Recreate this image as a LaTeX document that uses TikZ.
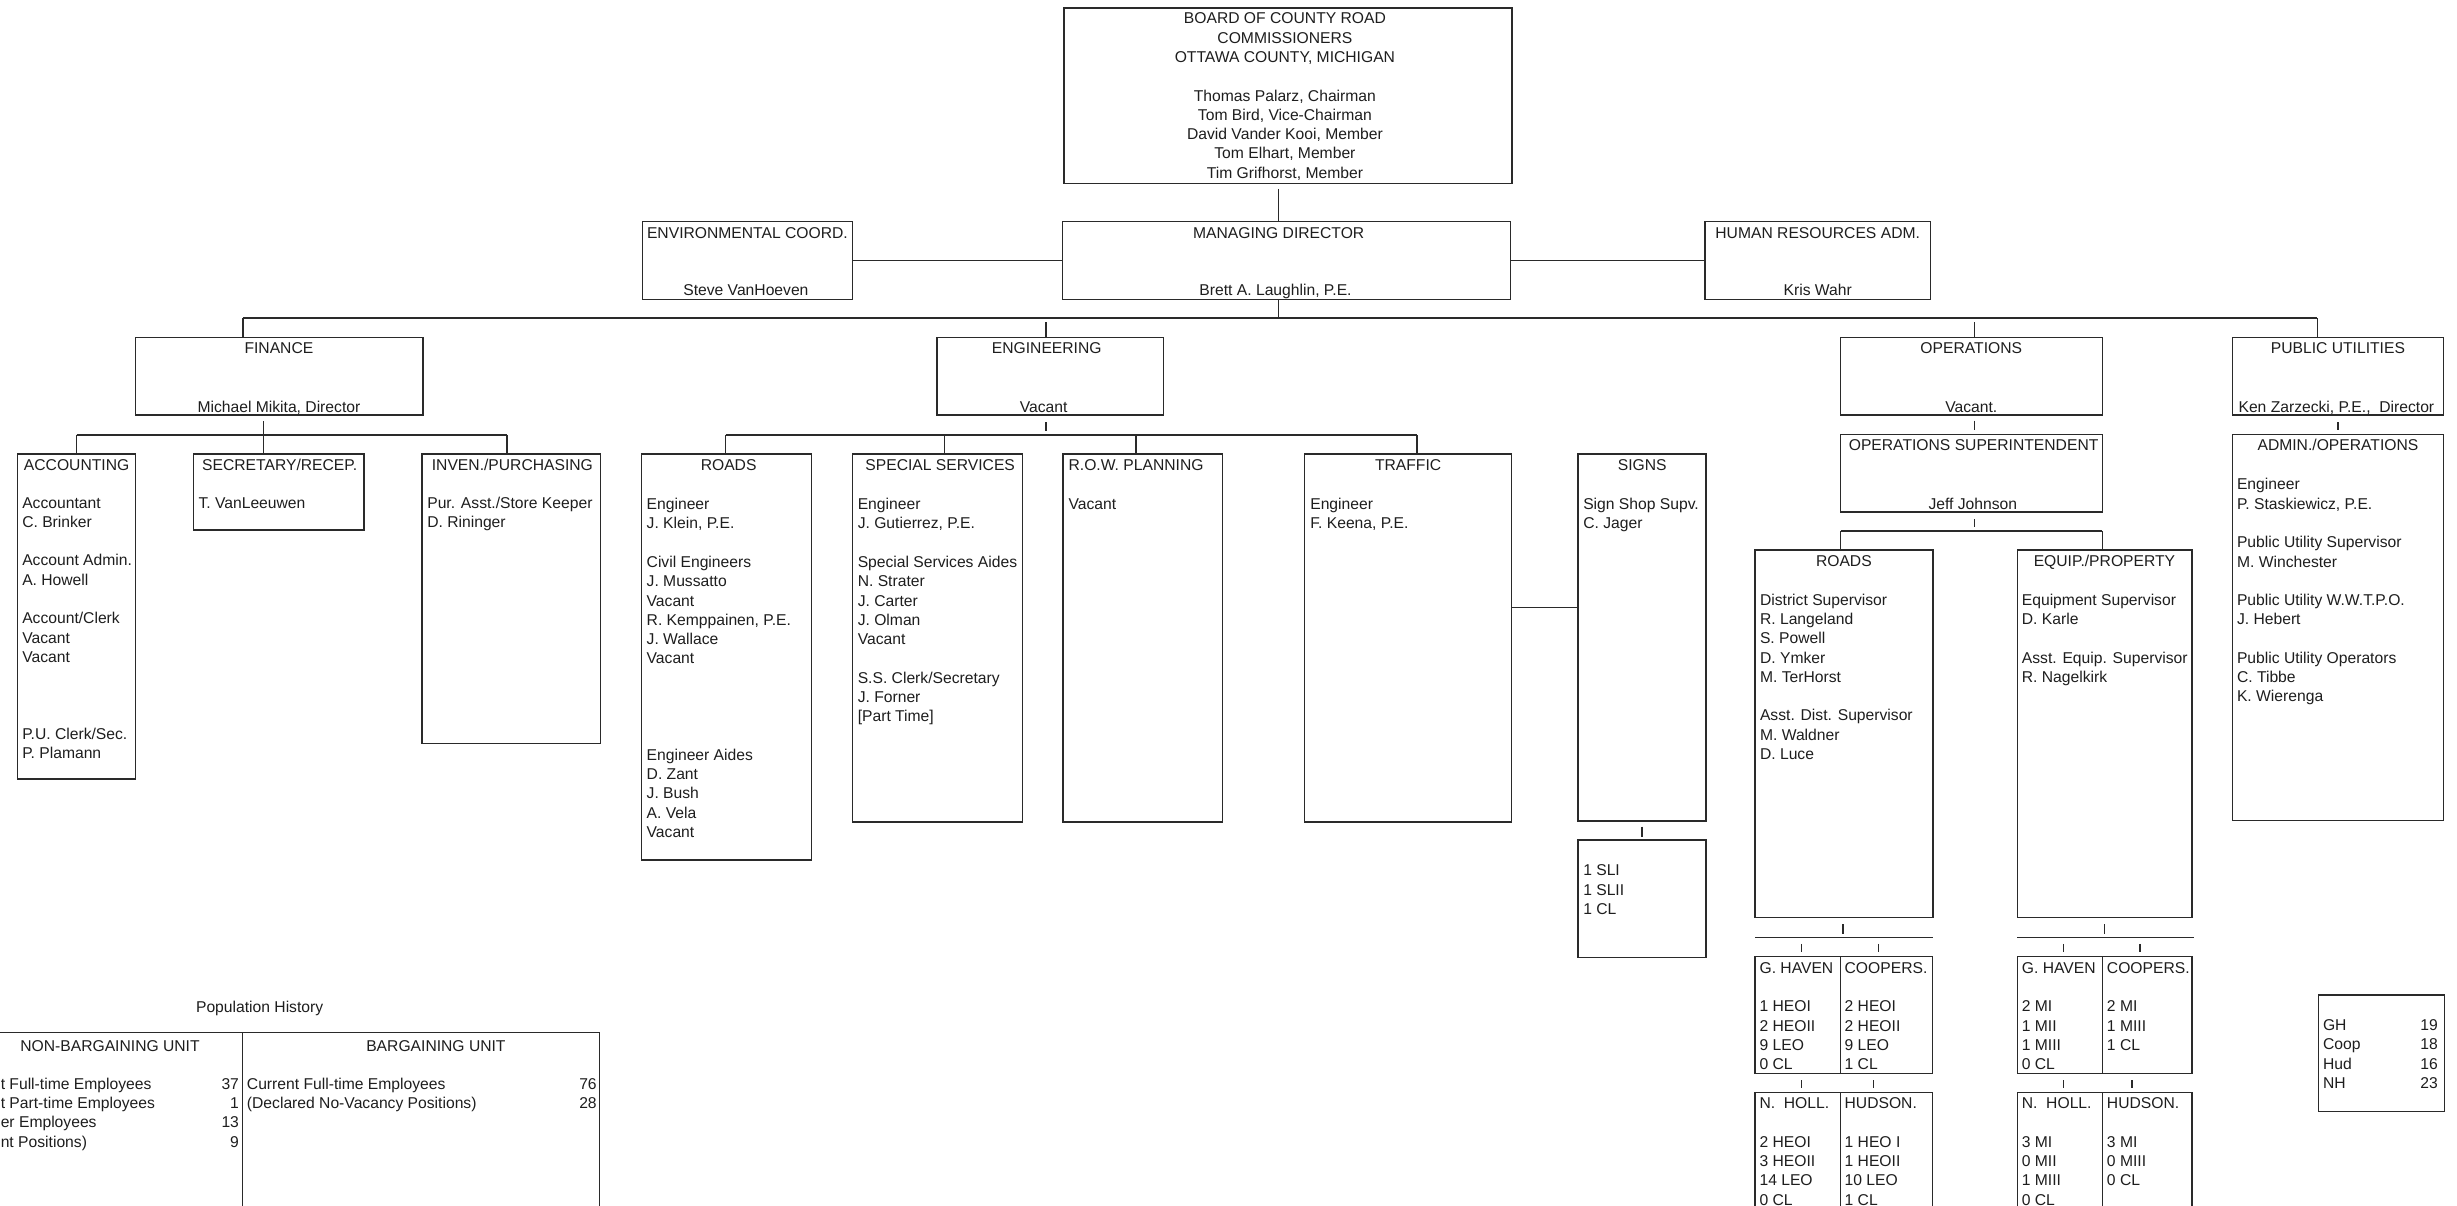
\documentclass[tikz,border=0pt]{standalone}
\usepackage{fontspec}
\setmainfont{Liberation Sans}
\usetikzlibrary{fit}
\definecolor{linec}{HTML}{2A2A2A}
\definecolor{textc}{HTML}{1E1E1E}
\newcommand{\bodyfont}{\fontsize{10}{12.3}\selectfont}
\newcommand{\obox}[5]{\coordinate (#1-a) at (#2,#3); \coordinate (#1-b) at (#4,#5); \node[boxst, fit=(#1-a)(#1-b)] (#1) {};}
\begin{document}
\begin{tikzpicture}[x=1pt,y=-1pt,
  boxst/.style={draw=linec, line width=0.95pt, inner sep=0pt},
  conn/.style={draw=linec, line width=0.95pt},
  tick/.style={conn, shorten <=4pt, shorten >=2.5pt},
  lbl/.style={inner sep=0pt, text=textc, font=\bodyfont, anchor=base},
  lblw/.style={lbl, anchor=base west},
  lble/.style={lbl, anchor=base east},
  blk/.style={inner sep=0pt, text=textc, font=\bodyfont, align=left, anchor=north west},
]
\useasboundingbox[fill=white] (0,0) rectangle (1568,769.6);

% ---------- boxes ----------
\obox{board}{679}{5}{965}{117}
\obox{env}{410}{141.5}{544}{191}
\obox{md}{678}{141.5}{964}{191}
\obox{hr}{1088}{141.5}{1232}{191}
\obox{fin}{86.5}{215.5}{270}{265}
\obox{eng}{598}{215.5}{742.5}{265}
\obox{ops}{1174.7}{215.5}{1341.6}{265}
\obox{pu}{1424.6}{215.5}{1559.2}{265}
\obox{acc}{11.3}{289.7}{86.5}{497}
\obox{sec}{123.6}{289.7}{232.3}{338.2}
\obox{inv}{269.4}{289.7}{383.3}{474.4}
\obox{eroads}{409.4}{289.7}{517.9}{548.8}
\obox{ss}{544}{289.7}{652.4}{524.7}
\obox{row}{678.5}{289.7}{780.2}{524.7}
\obox{traf}{832.6}{289.7}{964.6}{524.7}
\obox{signs}{1007}{289.7}{1088.8}{524}
\obox{signs2}{1007}{536}{1088.8}{611}
\obox{osup}{1174.7}{277.2}{1341.6}{326.9}
\obox{roadsO}{1120}{351}{1233.5}{585.4}
\obox{equip}{1287.4}{351}{1398.8}{585.4}
\obox{admin}{1424.6}{277.3}{1559.2}{523.7}
\obox{ghA}{1120}{610.5}{1174.6}{685}
\obox{ghB}{1174.6}{610.5}{1233.3}{685}
\obox{nhA}{1120}{697.3}{1174.6}{780}
\obox{nhB}{1174.6}{697.3}{1233.3}{780}
\obox{gqA}{1287.4}{610.5}{1341.6}{685}
\obox{gqB}{1341.6}{610.5}{1398.8}{685}
\obox{nqA}{1287.4}{697.3}{1341.6}{780}
\obox{nqB}{1341.6}{697.3}{1398.8}{780}
\obox{ghbox}{1479.5}{635}{1559.9}{709.4}
\obox{popL}{-5}{659}{154.6}{780}
\obox{popR}{154.6}{659}{382.7}{780}

% ---------- connectors ----------
\coordinate (barL) at (155,203);
\coordinate (barR) at (1478.8,203);
\coordinate (barM) at (816,203);
\coordinate (barE) at (667.6,203);
\coordinate (barO) at (1260,203);
\draw[conn] (barL) -- (barR);
\draw[conn, shorten <=3pt] (board.south -| barM) -- (md.north -| barM);
\draw[conn] (md.south -| barM) -- (barM);
\draw[conn] (env.east) -- (md.west);
\draw[conn] (md.east) -- (hr.west);
\draw[conn] (barL) -- (fin.north -| barL);
\draw[conn, shorten <=2.5pt] (barE) -- (eng.north -| barE);
\draw[conn, shorten <=2.5pt] (barO) -- (ops.north -| barO);
\draw[conn] (barR) -- (pu.north -| barR);

\coordinate (fsL) at (48.9,277.6);
\coordinate (fsM) at (168,277.6);
\coordinate (fsR) at (323.7,277.6);
\draw[conn, shorten <=3.5pt] (fin.south -| fsM) -- (sec.north -| fsM);
\draw[conn] (fsL) -- (fsR);
\draw[conn] (fsL) -- (acc.north -| fsL);
\draw[conn] (fsR) -- (inv.north -| fsR);

\coordinate (esL) at (463,277.7);
\coordinate (esR) at (904.3,277.7);
\coordinate (esM) at (667.6,277.7);
\coordinate (esS) at (602.6,277.7);
\coordinate (esW) at (725,277.7);
\draw[tick] (eng.south -| esM) -- (esM);
\draw[conn] (esL) -- (esR);
\draw[conn] (esL) -- (eroads.north -| esL);
\draw[conn] (esS) -- (ss.north -| esS);
\draw[conn] (esW) -- (row.north -| esW);
\draw[conn] (esR) -- (traf.north -| esR);

\coordinate (tsy) at (0,387.7);
\draw[conn] (traf.east |- tsy) -- (signs.west |- tsy);
\draw[tick, shorten <=3pt, shorten >=1.5pt] (signs.south) -- (signs2.north);

\draw[tick, shorten <=3pt] (ops.south -| barO) -- (osup.north -| barO);
\coordinate (osM) at (1260,339);
\coordinate (osL) at (1174.7,339);
\coordinate (osR) at (1341.6,339);
\draw[tick] (osup.south -| osM) -- (osM);
\draw[conn] (osL) -- (osR);
\draw[conn] (osL) -- (roadsO.north -| osL);
\draw[conn] (osR) -- (equip.north -| osR);

\coordinate (rbL) at (1120,598.4);
\coordinate (rbR) at (1233.3,598.4);
\coordinate (rbM) at (1176,598.4);
\coordinate (rb1) at (1149.8,598.4);
\coordinate (rb2) at (1198.7,598.4);
\coordinate (rc2) at (1195.5,598.4);
\draw[tick] (roadsO.south -| rbM) -- (rbM);
\draw[conn] (rbL) -- (rbR);
\draw[tick] (rb1) -- (ghA.north -| rb1);
\draw[tick] (rb2) -- (ghB.north -| rb2);
\draw[tick] (ghA.south -| rb1) -- (nhA.north -| rb1);
\draw[tick] (ghB.south -| rc2) -- (nhB.north -| rc2);

\coordinate (ebL) at (1287.4,598.4);
\coordinate (ebR) at (1400,598.4);
\coordinate (ebM) at (1343,598.4);
\coordinate (eb1) at (1316.7,598.4);
\coordinate (eb2) at (1365.7,598.4);
\coordinate (ec2) at (1360.6,598.4);
\draw[tick] (equip.south -| ebM) -- (ebM);
\draw[conn] (ebL) -- (ebR);
\draw[tick] (eb1) -- (gqA.north -| eb1);
\draw[tick] (eb2) -- (gqB.north -| eb2);
\draw[tick] (gqA.south -| eb1) -- (nqA.north -| eb1);
\draw[tick] (gqB.south -| ec2) -- (nqB.north -| ec2);

\draw[tick] (pu.south) -- (admin.north);

% ---------- texts ----------
\node[blk, align=center, anchor=north] (tboard) at (820,8.1) {BOARD OF COUNTY ROAD\\COMMISSIONERS\\OTTAWA COUNTY, MICHIGAN\\[12.3pt]Thomas Palarz, Chairman\\Tom Bird, Vice-Chairman\\David Vander Kooi, Member\\Tom Elhart, Member\\Tim Grifhorst, Member};

\node[lbl] (tenv1) at (477,152.4) {ENVIRONMENTAL COORD.};
\node[lbl] (tenv2) at (476,188.6) {Steve VanHoeven};
\node[lbl] (tmd1) at (816,152.4) {MANAGING DIRECTOR};
\node[lbl] (tmd2) at (814,188.6) {Brett A. Laughlin, P.E.};
\node[lbl] (thr1) at (1160,152.4) {HUMAN RESOURCES ADM.};
\node[lbl] (thr2) at (1160,188.6) {Kris Wahr};

\node[lbl] (tfin1) at (178,225.9) {FINANCE};
\node[lbl] (tfin2) at (178,263.1) {Michael Mikita, Director};
\node[lbl] (teng1) at (668,225.9) {ENGINEERING};
\node[lbl] (teng2) at (666,263.1) {Vacant};
\node[lbl] (tops1) at (1258,225.9) {OPERATIONS};
\node[lbl] (tops2) at (1258,263.1) {Vacant.};
\node[lbl] (tpu1) at (1492,225.9) {PUBLIC UTILITIES};
\node[lbl] (tpu2) at (1491,263.1) {Ken Zarzecki, P.E.,~~Director};

\node[lbl] (tacc) at (48.9,300) {ACCOUNTING};
\node[lbl] (tsec) at (178.5,300) {SECRETARY/RECEP.};
\node[lbl] (tinv) at (327,300) {INVEN./PURCHASING};
\node[lbl] (teroads) at (465,300) {ROADS};
\node[lbl] (tss) at (600,300) {SPECIAL SERVICES};
\node[lbl] (trow) at (725,300) {R.O.W. PLANNING};
\node[lbl] (ttraf) at (898.6,300) {TRAFFIC};
\node[lbl] (tsigns) at (1048,300) {SIGNS};

\node[blk] (bacc) at (14,317.2) {Accountant\\C. Brinker\\[12.3pt]Account Admin.\\A. Howell\\[12.3pt]Account/Clerk\\Vacant\\Vacant\\[36.9pt]P.U. Clerk/Sec.\\P. Plamann};
\node[blk] (bsec) at (126.5,317.2) {T. VanLeeuwen};
\node[blk] (binv) at (272.5,317.2) {Pur. Asst./Store Keeper\\D. Rininger};
\node[blk] (beroads) at (412.5,317.8) {Engineer\\J. Klein, P.E.\\[12.3pt]Civil Engineers\\J. Mussatto\\Vacant\\R. Kemppainen, P.E.\\J. Wallace\\Vacant\\[49.2pt]Engineer Aides\\D. Zant\\J. Bush\\A. Vela\\Vacant};
\node[blk] (bss) at (547.2,317.8) {Engineer\\J. Gutierrez, P.E.\\[12.3pt]Special Services Aides\\N. Strater\\J. Carter\\J. Olman\\Vacant\\[12.3pt]S.S. Clerk/Secretary\\J. Forner\\{[}Part Time{]}};
\node[blk] (brow) at (681.7,317.8) {Vacant};
\node[blk] (btraf) at (836,317.8) {Engineer\\F. Keena, P.E.};
\node[blk] (bsigns) at (1010.2,317.7) {Sign Shop Supv.\\C. Jager};
\node[blk] (bsigns2) at (1010.2,551.8) {1 SLI\\1 SLII\\1 CL};

\node[lbl] (tosup1) at (1259.5,287.8) {OPERATIONS SUPERINTENDENT};
\node[lbl] (tosup2) at (1259,324.9) {Jeff Johnson};
\node[lbl] (troadsO) at (1176.7,361.5) {ROADS};
\node[blk] (broadsO) at (1123,378.8) {District Supervisor\\R. Langeland\\S. Powell\\D. Ymker\\M. TerHorst\\[12.3pt]Asst. Dist. Supervisor\\M. Waldner\\D. Luce};
\node[lbl] (tequip) at (1343,361.4) {EQUIP./PROPERTY};
\node[blk] (bequip) at (1290.1,378.8) {Equipment Supervisor\\D. Karle\\[12.3pt]Asst. Equip. Supervisor\\R. Nagelkirk};
\node[lbl] (tadmin) at (1492,287.3) {ADMIN./OPERATIONS};
\node[blk] (badmin) at (1427.4,305.2) {Engineer\\P. Staskiewicz, P.E.\\[12.3pt]Public Utility Supervisor\\M. Winchester\\[12.3pt]Public Utility W.W.T.P.O.\\J. Hebert\\[12.3pt]Public Utility Operators\\C. Tibbe\\K. Wierenga};

\node[blk] (bghA) at (1122.7,613.9) {G. HAVEN\\[12.3pt]1 HEOI\\2 HEOII\\9 LEO\\0 CL};
\node[blk] (bghB) at (1177,613.9) {COOPERS.\\[12.3pt]2 HEOI\\2 HEOII\\9 LEO\\1 CL};
\node[blk] (bnhA) at (1122.7,700.4) {N.~~HOLL.\\[12.3pt]2 HEOI\\3 HEOII\\14 LEO\\0 CL};
\node[blk] (bnhB) at (1177,700.4) {HUDSON.\\[12.3pt]1 HEO I\\1 HEOII\\10 LEO\\1 CL};
\node[blk] (bgqA) at (1290.1,613.9) {G. HAVEN\\[12.3pt]2 MI\\1 MII\\1 MIII\\0 CL};
\node[blk] (bgqB) at (1344.4,613.9) {COOPERS.\\[12.3pt]2 MI\\1 MIII\\1 CL};
\node[blk] (bnqA) at (1290.1,700.4) {N.~~HOLL.\\[12.3pt]3 MI\\0 MII\\1 MIII\\0 CL};
\node[blk] (bnqB) at (1344.4,700.4) {HUDSON.\\[12.3pt]3 MI\\0 MIII\\0 CL};

\node[blk] (bgh1) at (1482.3,650.5) {GH\\Coop\\Hud\\NH};
\node[blk, align=right, anchor=north east] (bgh2) at (1556,650.5) {19\\18\\16\\23};

% ---------- population history ----------
\node[lbl] (tpop) at (165.7,646) {Population History};
\node[lbl] (tnb) at (70.2,671.1) {NON-BARGAINING UNIT};
\node[lbl] (tbu) at (278.2,671.1) {BARGAINING UNIT};
\node[lblw] (p1) at (0.3,695.4) {t Full-time Employees};
\node[lblw] (p2) at (0.3,707.7) {t Part-time Employees};
\node[lblw] (p3) at (0.3,719.8) {er Employees};
\node[lblw] (p4) at (0.3,732.2) {nt Positions)};
\node[lble] (n1) at (152.7,695.4) {37};
\node[lble] (n2) at (152.7,707.7) {1};
\node[lble] (n3) at (152.7,719.8) {13};
\node[lble] (n4) at (152.7,732.2) {9};
\node[lblw] (q1) at (157.4,695.4) {Current Full-time Employees};
\node[lblw] (q2) at (157.4,707.7) {(Declared No-Vacancy Positions)};
\node[lble] (m1) at (381,695.4) {76};
\node[lble] (m2) at (381,707.7) {28};
\end{tikzpicture}
\end{document}
